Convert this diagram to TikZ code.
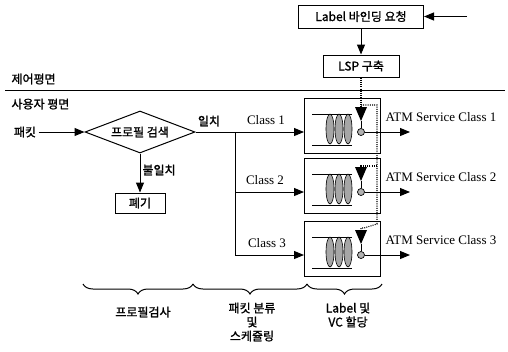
\documentclass[tikz,border=0pt]{standalone}
\usepackage{fontspec}
\newfontfamily\kr[FakeBold=1.2]{Noto Sans CJK KR}
\newfontfamily\tm{Liberation Serif}
\usetikzlibrary{arrows.meta,shapes.geometric,decorations.pathreplacing}
\begin{document}
\begin{tikzpicture}[x=1pt,y=-1pt, line width=1pt,
  box/.style={draw, inner sep=0pt},
  kt/.style={font=\kr\fontsize{12}{14}\selectfont, inner sep=0pt},
  tt/.style={font=\tm\fontsize{13}{15}\selectfont, inner sep=0pt},
  arr/.style={-{Triangle[length=10pt,width=8pt]}},
  ctl/.style={line width=1.1pt, dash pattern=on 1pt off 1.2pt},
  brc/.style={decorate, decoration={brace, mirror, amplitude=10pt}, line width=1pt}]
\useasboundingbox (0,0) rectangle (508,351);
% control plane
\node[box, minimum width=125pt, minimum height=23pt, kt] (req) at (361,16.5) {Label 바인딩 요청};
\coordinate (in) at (467,16.5);
\draw[arr] (in) -- (req.east);
\node[box, minimum width=76pt, minimum height=22pt, kt] (lsp) at (361,66) {LSP 구축};
\draw[arr] (req.south) -- (lsp.north);
% separator
\coordinate (sepL) at (5,90);
\coordinate (sepR) at (505,90);
\draw (sepL) -- (sepR);
\node[kt, anchor=west] (cp) at (11,79) {제어평면};
\node[kt, anchor=west] (up) at (11,104) {사용자 평면};
% profile search
\node[draw, diamond, minimum width=110pt, minimum height=42pt, inner sep=0pt] (srch) at (140,132) {};
\node[kt] (srcht) at (srch) {프로필 검색};
\node[kt] (pkt) at (25,132) {패킷};
\draw[arr] (pkt.east) ++(2,0) -- (srch.west);
\node[box, minimum width=50pt, minimum height=20pt, kt] (drop) at (140,203) {폐기};
\draw[arr] (srch.south) -- (drop.north);
\node[kt, anchor=west] (nm) at (142,170) {불일치};
\node[kt] (m) at (209,121) {일치};
% class boxes
\foreach \i/\t in {1/98,2/158,3/221}{
  \node[box, minimum width=76pt, minimum height=55pt, anchor=north west] (box\i) at (304,\t) {};
  \draw (312,\t+16) -- (352,\t+16);
  \draw (312,\t+47) -- (352,\t+47);
  \foreach \x in {330,339,348}
    \draw[fill=gray!70, line width=0.6pt] (\x,\t+31) ellipse [x radius=4pt, y radius=15pt];
  \fill (355,\t+9) -- (367,\t+9) -- (361,\t+23) -- cycle;
  \coordinate (tri\i) at (361,\t+9);
  \coordinate (tip\i) at (361,\t+23);
  \node[circle, draw, fill=gray!60, minimum size=7pt, inner sep=0pt, line width=0.7pt] (c\i) at (361,\t+34) {};
  \draw[line width=0.7pt] (tip\i) -- (c\i);
  \coordinate (o\i) at (410,\t+34);
  \draw[arr] (c\i) -- (o\i);
  \node[tt, anchor=west] (atm\i) at (385,\t+19) {ATM Service Class \i};
}
% classification
\coordinate (j1) at (235,132);
\coordinate (j2) at (235,192);
\coordinate (j3) at (235,255);
\draw[arr] (srch.east) -- (srch.east -| box1.west);
\draw (j1) -- (j3);
\draw[arr] (j2) -- (j2 -| box2.west);
\draw[arr] (j3) -- (j3 -| box3.west);
\node[tt] (cl1) at (266,120) {Class 1};
\node[tt] (cl2) at (265,180) {Class 2};
\node[tt] (cl3) at (267,243) {Class 3};
% control dotted lines
\coordinate (k1) at (361,105);
\coordinate (k2) at (377,105);
\coordinate (k3) at (377,166);
\coordinate (k4) at (361,166);
\coordinate (k5) at (377,224);
\coordinate (k6) at (364,228);
\coordinate (k7) at (361,228);
\draw[ctl] (lsp.south) -- (tri1);
\draw[ctl] (k1) -- (k2) -- (k5) -- (k6) -- (k7) -- (tri3);
\draw[ctl] (k3) -- (k4) -- (tri2);
% braces
\coordinate (b0) at (83,284);
\coordinate (b1) at (193,284);
\coordinate (b2) at (307,284);
\coordinate (b3) at (382,284);
\draw[brc] (b0) -- (b1);
\draw[brc] (b1) -- (b2);
\draw[brc] (b2) -- (b3);
\node[kt] (l1) at (143,312) {프로필검사};
\node[kt, align=center] (l2) at (252,322) {패킷 분류\\및\\스케쥴링};
\node[kt, align=center] (l3) at (348,315) {Label 및\\VC 할당};
\end{tikzpicture}
\end{document}
